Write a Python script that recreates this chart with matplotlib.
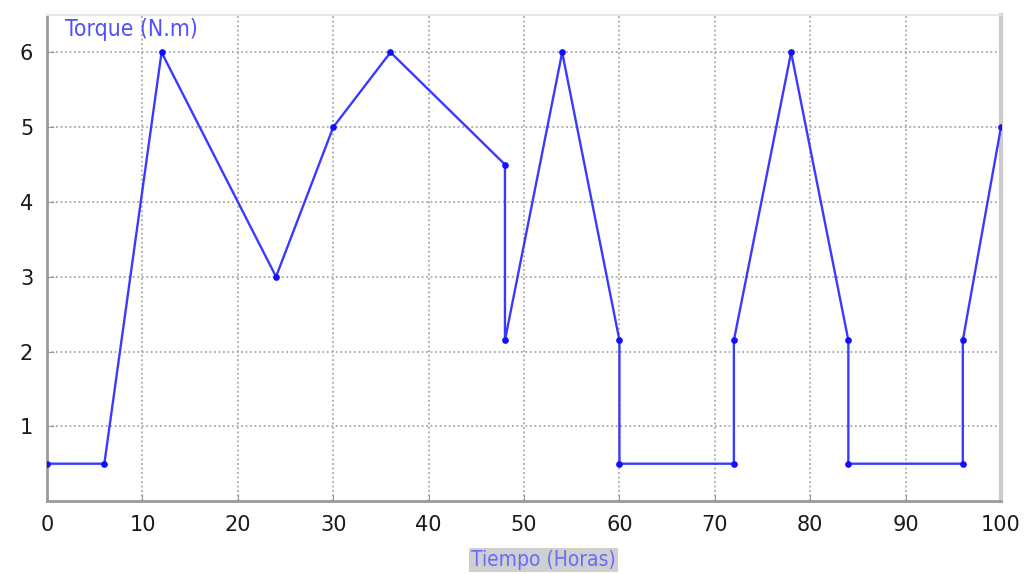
import matplotlib.pyplot as plt

hours = [0, 6, 12, 24, 30, 36, 48, 48, 54, 60, 60, 72, 72, 78, 84, 84, 96, 96, 100]
torque = [0.5, 0.5, 6, 3, 5, 6, 4.5, 2.15, 6, 2.15, 0.5, 0.5, 2.15, 6, 2.15, 0.5, 0.5, 2.15, 5]
x_ticks = list(range(0, 101, 10))
y_ticks = [1, 2, 3, 4, 5, 6]

fig = plt.figure(figsize=(10.24, 5.74), dpi=100)
ax = fig.add_axes([0.046, 0.127, 0.9315, 0.847])

ax.plot(hours, torque, color='#3a3aff', lw=1.7, marker='o', markersize=3.8,
        markerfacecolor='#1010ff', markeredgecolor='#1010ff', zorder=3)

ax.set_xlim(0, 100)
ax.set_ylim(0, 6.5)
ax.set_xticks(x_ticks)
ax.set_yticks(y_ticks)
ax.grid(True, color='#a8a8a8', linestyle=(0, (1, 1.5)), linewidth=1.3)
ax.tick_params(direction='in', length=5, color='#999999', labelsize=15,
               labelcolor='#1a1a1a', pad=10)

for side in ['left', 'bottom']:
    ax.spines[side].set_color('#9a9a9a')
    ax.spines[side].set_linewidth(2)
ax.spines['top'].set_color('#e6e6e6')
ax.spines['top'].set_linewidth(1.5)
ax.spines['right'].set_color('#cccccc')
ax.spines['right'].set_linewidth(3)

fig.text(0.063, 0.948, 'Torque (N.m)', color='#5050ff', fontsize=16.5,
         family='DejaVu Sans', fontstretch='condensed', va='center')
fig.text(0.531, 0.025, 'Tiempo (Horas)', color='#6a6aff', fontsize=15,
         family='DejaVu Sans', fontstretch='condensed', ha='center', va='center',
         bbox=dict(facecolor='#cfcfcf', edgecolor='none', pad=1.5))

plt.savefig('out.png', dpi=100)
